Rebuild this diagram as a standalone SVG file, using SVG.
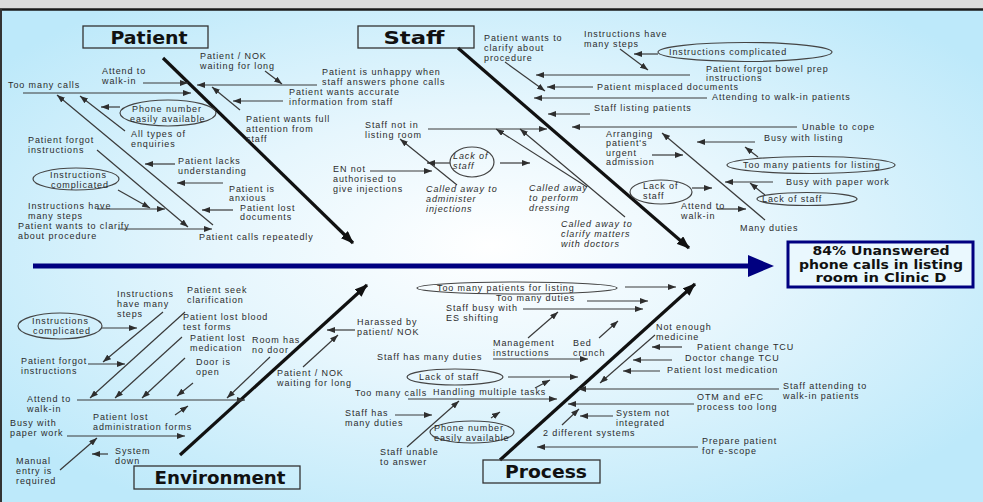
<svg xmlns="http://www.w3.org/2000/svg" width="983" height="502" viewBox="0 0 983 502">
<defs>
<radialGradient id="bg" cx="50%" cy="48%" r="62%">
<stop offset="0" stop-color="#ffffff"/>
<stop offset="0.45" stop-color="#e6f6fd"/>
<stop offset="1" stop-color="#bde9fa"/>
</radialGradient>
<marker id="a" viewBox="0 0 8 6" refX="8" refY="3" markerWidth="8" markerHeight="6" orient="auto" markerUnits="userSpaceOnUse"><path d="M0,0 L8,3 L0,6 z" fill="#2e2e2e"/></marker>
<marker id="b" viewBox="0 0 13 10" refX="12" refY="5" markerWidth="13" markerHeight="10" orient="auto" markerUnits="userSpaceOnUse"><path d="M0,0 L13,5 L0,10 z" fill="#111"/></marker>
<style>
.t{font-family:"Liberation Sans",Arial,sans-serif;font-size:9px;letter-spacing:0.9px;fill:#2c2c2c}
.i{font-style:italic}
.h{font-family:"DejaVu Sans","Liberation Sans",sans-serif;font-weight:bold;font-size:18px;fill:#111;text-anchor:middle}
.e{font-family:"DejaVu Sans","Liberation Sans",sans-serif;font-weight:bold;font-size:12.5px;fill:#111;text-anchor:middle}
.box{fill:none;stroke:#333;stroke-width:1.3}
.el{fill:none;stroke:#444;stroke-width:1.2}
.c{stroke:#3a3a3a;stroke-width:1.2;fill:none;marker-end:url(#a)}
.bone{stroke:#111;stroke-width:3.2;fill:none;marker-end:url(#b)}
</style>
</defs>
<rect x="0" y="0" width="983" height="9" fill="#dcdcdc"/>
<rect x="0" y="9" width="983" height="493" fill="url(#bg)"/>
<line x1="0" y1="9.5" x2="983" y2="9.5" stroke="#1a1a1a" stroke-width="2.5"/>
<line x1="1" y1="9" x2="1" y2="502" stroke="#333" stroke-width="2"/>

<g id="spine">
<line x1="33" y1="266" x2="750" y2="266" stroke="#000080" stroke-width="5"/>
<polygon points="748,255 774,266 748,277" fill="#000080"/>
</g>

<g id="bones">
<line class="bone" x1="163" y1="58" x2="353" y2="243"/>
<line class="bone" x1="458" y1="48" x2="689" y2="248"/>
<line class="bone" x1="180" y1="455" x2="367" y2="285"/>
<line class="bone" x1="500" y1="460" x2="695" y2="284"/>
</g>

<g id="effect">
<rect x="788" y="242" width="185" height="45" fill="#eaf8fe" stroke="#000080" stroke-width="3"/>
<text class="e" x="881" y="255" textLength="137" lengthAdjust="spacingAndGlyphs">84% Unanswered</text>
<text class="e" x="881" y="268.5" textLength="164" lengthAdjust="spacingAndGlyphs">phone calls in listing</text>
<text class="e" x="881" y="282" textLength="131" lengthAdjust="spacingAndGlyphs">room in Clinic D</text>
</g>

<g id="cat-patient"><rect class="box" x="83" y="26" width="125" height="22"/><text class="h" x="149" y="44" textLength="77" lengthAdjust="spacingAndGlyphs">Patient</text></g>
<g id="cat-staff"><rect class="box" x="358" y="26" width="116" height="22"/><text class="h" x="414" y="44" textLength="61" lengthAdjust="spacingAndGlyphs">Staff</text></g>
<g id="cat-environment"><rect class="box" x="134" y="466" width="166" height="23"/><text class="h" x="220" y="484" textLength="131" lengthAdjust="spacingAndGlyphs">Environment</text></g>
<g id="cat-process"><rect class="box" x="483" y="460" width="117" height="23"/><text class="h" x="546" y="478" textLength="82" lengthAdjust="spacingAndGlyphs">Process</text></g>

<g id="connectors">
<line class="c" x1="317" y1="85" x2="197" y2="85"/>
<line class="c" x1="265" y1="71" x2="282" y2="84"/>
<line class="c" x1="143" y1="83" x2="188" y2="83"/>
<line class="c" x1="23" y1="93" x2="191" y2="93"/>
<line class="c" x1="240" y1="110" x2="212" y2="87"/>
<line class="c" x1="283" y1="101" x2="233" y2="101"/>
<line class="c" x1="120" y1="107" x2="101" y2="107"/>
<line class="c" x1="213" y1="225" x2="57" y2="95"/>
<line class="c" x1="125" y1="131" x2="80" y2="96"/>
<line class="c" x1="175" y1="164" x2="145" y2="164"/>
<line class="c" x1="223" y1="183" x2="177" y2="183"/>
<line class="c" x1="233" y1="210" x2="202" y2="210"/>
<line class="c" x1="97" y1="150" x2="188" y2="227"/>
<line class="c" x1="118" y1="190" x2="150" y2="208"/>
<line class="c" x1="97" y1="209" x2="165" y2="209"/>
<line class="c" x1="118" y1="229" x2="212" y2="229"/>

<line class="c" x1="505" y1="62" x2="545" y2="91"/>
<line class="c" x1="690" y1="75" x2="536" y2="75"/>
<line class="c" x1="620" y1="49" x2="648" y2="70"/>
<line class="c" x1="658" y1="54" x2="634" y2="54"/>
<line class="c" x1="593" y1="87" x2="547" y2="87"/>
<line class="c" x1="707" y1="98" x2="534" y2="98"/>
<line class="c" x1="590" y1="114" x2="548" y2="114"/>
<line class="c" x1="797" y1="127" x2="572" y2="127"/>
<line class="c" x1="428" y1="129" x2="547" y2="129"/>
<line class="c" x1="457" y1="185" x2="400" y2="139"/>
<line class="c" x1="450" y1="163" x2="427" y2="163"/>
<line class="c" x1="500" y1="163" x2="530" y2="163"/>
<line class="c" x1="370" y1="171" x2="432" y2="171"/>
<line class="c" x1="587" y1="187" x2="496" y2="129"/>
<line class="c" x1="625" y1="217" x2="520" y2="129"/>
<line class="c" x1="765" y1="220" x2="662" y2="133"/>
<line class="c" x1="755" y1="142" x2="697" y2="142"/>
<line class="c" x1="652" y1="155" x2="683" y2="155"/>
<line class="c" x1="758" y1="157" x2="745" y2="147"/>
<line class="c" x1="773" y1="182" x2="725" y2="182"/>
<line class="c" x1="765" y1="195" x2="750" y2="183"/>
<line class="c" x1="692" y1="188" x2="712" y2="188"/>
<line class="c" x1="717" y1="209" x2="746" y2="209"/>

<line class="c" x1="163" y1="312" x2="103" y2="362"/>
<line class="c" x1="185" y1="312" x2="90" y2="398"/>
<line class="c" x1="182" y1="337" x2="115" y2="398"/>
<line class="c" x1="185" y1="358" x2="142" y2="398"/>
<line class="c" x1="193" y1="383" x2="177" y2="396"/>
<line class="c" x1="270" y1="357" x2="227" y2="398"/>
<line class="c" x1="77" y1="400" x2="245" y2="400"/>
<line class="c" x1="102" y1="328" x2="137" y2="328"/>
<line class="c" x1="88" y1="364" x2="125" y2="364"/>
<line class="c" x1="355" y1="330" x2="327" y2="330"/>
<line class="c" x1="303" y1="367" x2="338" y2="335"/>
<line class="c" x1="175" y1="415" x2="188" y2="406"/>
<line class="c" x1="67" y1="436" x2="185" y2="436"/>
<line class="c" x1="60" y1="470" x2="97" y2="438"/>
<line class="c" x1="108" y1="454" x2="92" y2="454"/>

<line class="c" x1="625" y1="287" x2="676" y2="287"/>
<line class="c" x1="587" y1="301" x2="648" y2="301"/>
<line class="c" x1="523" y1="309" x2="643" y2="309"/>
<line class="c" x1="528" y1="338" x2="558" y2="312"/>
<line class="c" x1="599" y1="338" x2="618" y2="321"/>
<line class="c" x1="493" y1="359" x2="588" y2="359"/>
<line class="c" x1="508" y1="377" x2="578" y2="377"/>
<line class="c" x1="655" y1="335" x2="600" y2="383"/>
<line class="c" x1="682" y1="347" x2="652" y2="347"/>
<line class="c" x1="672" y1="360" x2="633" y2="360"/>
<line class="c" x1="660" y1="371" x2="623" y2="371"/>
<line class="c" x1="779" y1="389" x2="578" y2="389"/>
<line class="c" x1="694" y1="404" x2="568" y2="404"/>
<line class="c" x1="613" y1="416" x2="580" y2="416"/>
<line class="c" x1="562" y1="425" x2="579" y2="409"/>
<line class="c" x1="698" y1="447" x2="537" y2="447"/>
<line class="c" x1="408" y1="399" x2="557" y2="399"/>
<line class="c" x1="395" y1="415" x2="432" y2="415"/>
<line class="c" x1="491" y1="418" x2="500" y2="412"/>
<line class="c" x1="407" y1="447" x2="459" y2="401"/>
<line class="c" x1="535" y1="388" x2="550" y2="380"/>
</g>

<!-- Patient causes -->
<g id="p-nok"><text class="t" x="200" y="58.5">Patient / NOK</text><text class="t" x="200" y="68.5">waiting for long</text></g>
<g id="p-unhappy"><text class="t" x="322" y="74.5">Patient is unhappy when</text><text class="t" x="322" y="84.5">staff answers phone calls</text></g>
<g id="p-attend"><text class="t" x="102" y="73.5">Attend to</text><text class="t" x="102" y="83.5">walk-in</text></g>
<g id="p-toomany"><text class="t" x="8" y="88">Too many calls</text></g>
<g id="p-accurate"><text class="t" x="289" y="94.5">Patient wants accurate</text><text class="t" x="289" y="104.5">information from staff</text></g>
<g id="p-phone"><ellipse class="el" cx="168" cy="113" rx="48" ry="13"/><text class="t" x="132" y="111.5">Phone number</text><text class="t" x="130" y="121.5">easily available</text></g>
<g id="p-full"><text class="t" x="246" y="121.5">Patient wants full</text><text class="t" x="246" y="131.5">attention from</text><text class="t" x="246" y="141.5">staff</text></g>
<g id="p-types"><text class="t" x="131" y="137">All types of</text><text class="t" x="131" y="147">enquiries</text></g>
<g id="p-forgot"><text class="t" x="28" y="143">Patient forgot</text><text class="t" x="28" y="153">instructions</text></g>
<g id="p-lacks"><text class="t" x="178" y="164">Patient lacks</text><text class="t" x="178" y="174">understanding</text></g>
<g id="p-complicated"><ellipse class="el" cx="76" cy="179" rx="43" ry="11"/><text class="t" x="50" y="178">Instructions</text><text class="t" x="51" y="188">complicated</text></g>
<g id="p-anxious"><text class="t" x="229" y="192">Patient is</text><text class="t" x="229" y="201">anxious</text></g>
<g id="p-lostdocs"><text class="t" x="240" y="210.5">Patient lost</text><text class="t" x="240" y="220">documents</text></g>
<g id="p-steps"><text class="t" x="28" y="209">Instructions have</text><text class="t" x="28" y="219">many steps</text></g>
<g id="p-clarify"><text class="t" x="18" y="228.5">Patient wants to clarify</text><text class="t" x="18" y="238.5">about procedure</text></g>
<g id="p-repeat"><text class="t" x="199" y="240">Patient calls repeatedly</text></g>

<!-- Staff causes -->
<g id="s-clarify"><text class="t" x="484" y="41">Patient wants to</text><text class="t" x="484" y="51">clarify about</text><text class="t" x="484" y="61">procedure</text></g>
<g id="s-steps"><text class="t" x="584" y="36.5">Instructions have</text><text class="t" x="584" y="46.5">many steps</text></g>
<g id="s-complicated"><ellipse class="el" cx="745" cy="52" rx="87" ry="9.5"/><text class="t" x="669" y="55">Instructions complicated</text></g>
<g id="s-bowel"><text class="t" x="706" y="72">Patient forgot bowel prep</text><text class="t" x="706" y="80.5">instructions</text></g>
<g id="s-misplaced"><text class="t" x="597" y="89.5">Patient misplaced documents</text></g>
<g id="s-walkin"><text class="t" x="712" y="100">Attending to walk-in patients</text></g>
<g id="s-listing"><text class="t" x="594" y="111">Staff listing patients</text></g>
<g id="s-cope"><text class="t" x="802" y="130">Unable to cope</text></g>
<g id="s-notin"><text class="t" x="365" y="127.5">Staff not in</text><text class="t" x="365" y="137.5">listing room</text></g>
<g id="s-lack1"><ellipse class="el" cx="472" cy="162" rx="22" ry="15"/><text class="t i" x="453" y="158.5">Lack of</text><text class="t i" x="453" y="168.5">staff</text></g>
<g id="s-en"><text class="t" x="333" y="172">EN not</text><text class="t" x="333" y="182">authorised to</text><text class="t" x="333" y="192">give injections</text></g>
<g id="s-inject"><text class="t i" x="426" y="192">Called away to</text><text class="t i" x="426" y="202">administer</text><text class="t i" x="426" y="212">injections</text></g>
<g id="s-dressing"><text class="t i" x="529" y="191">Called away</text><text class="t i" x="529" y="201">to perform</text><text class="t i" x="529" y="211">dressing</text></g>
<g id="s-doctors"><text class="t i" x="561" y="227">Called away to</text><text class="t i" x="561" y="237">clarify matters</text><text class="t i" x="561" y="247">with doctors</text></g>
<g id="s-arranging"><text class="t" x="606" y="136.5">Arranging</text><text class="t" x="606" y="146">patient's</text><text class="t" x="606" y="155.5">urgent</text><text class="t" x="606" y="165">admission</text></g>
<g id="s-busylist"><text class="t" x="764" y="141">Busy with listing</text></g>
<g id="s-toomany"><ellipse class="el" cx="811" cy="165" rx="84" ry="8.5"/><text class="t" x="743" y="168">Too many patients for listing</text></g>
<g id="s-paper"><text class="t" x="786" y="185">Busy with paper work</text></g>
<g id="s-lack3"><ellipse class="el" cx="807" cy="199" rx="50" ry="6.5"/><text class="t" x="762" y="202">Lack of staff</text></g>
<g id="s-lack2"><ellipse class="el" cx="661" cy="192" rx="31" ry="12"/><text class="t" x="643" y="188.5">Lack of</text><text class="t" x="643" y="198.5">staff</text></g>
<g id="s-attend"><text class="t" x="681" y="209">Attend to</text><text class="t" x="681" y="219">walk-in</text></g>
<g id="s-many"><text class="t" x="740" y="231">Many duties</text></g>

<!-- Environment causes -->
<g id="e-steps"><text class="t" x="117" y="297">Instructions</text><text class="t" x="117" y="307">have many</text><text class="t" x="117" y="317">steps</text></g>
<g id="e-seek"><text class="t" x="187" y="292.5">Patient seek</text><text class="t" x="187" y="302.5">clarification</text></g>
<g id="e-blood"><text class="t" x="183" y="320">Patient lost blood</text><text class="t" x="183" y="330">test forms</text></g>
<g id="e-complicated"><ellipse class="el" cx="60" cy="326" rx="42" ry="13"/><text class="t" x="32" y="324">Instructions</text><text class="t" x="33" y="334">complicated</text></g>
<g id="e-medication"><text class="t" x="190" y="340.5">Patient lost</text><text class="t" x="190" y="350.5">medication</text></g>
<g id="e-room"><text class="t" x="252" y="342.5">Room has</text><text class="t" x="252" y="352.5">no door</text></g>
<g id="e-forgot"><text class="t" x="21" y="363.5">Patient forgot</text><text class="t" x="21" y="373.5">instructions</text></g>
<g id="e-door"><text class="t" x="196" y="365">Door is</text><text class="t" x="196" y="375">open</text></g>
<g id="e-nok"><text class="t" x="277" y="376">Patient / NOK</text><text class="t" x="277" y="386">waiting for long</text></g>
<g id="e-harassed"><text class="t" x="357" y="324.5">Harassed by</text><text class="t" x="357" y="334.5">patient/ NOK</text></g>
<g id="e-attend"><text class="t" x="27" y="401.5">Attend to</text><text class="t" x="27" y="411.5">walk-in</text></g>
<g id="e-admin"><text class="t" x="93" y="420">Patient lost</text><text class="t" x="93" y="430">administration forms</text></g>
<g id="e-paper"><text class="t" x="10" y="426">Busy with</text><text class="t" x="10" y="436">paper work</text></g>
<g id="e-manual"><text class="t" x="16" y="464">Manual</text><text class="t" x="16" y="474">entry is</text><text class="t" x="16" y="484">required</text></g>
<g id="e-system"><text class="t" x="115" y="453.5">System</text><text class="t" x="115" y="463.5">down</text></g>

<!-- Process causes -->
<g id="r-toomany"><ellipse class="el" cx="517" cy="288" rx="100" ry="6"/><text class="t" x="437" y="291">Too many patients for listing</text></g>
<g id="r-duties"><text class="t" x="496" y="301">Too many duties</text></g>
<g id="r-es"><text class="t" x="446" y="311">Staff busy with</text><text class="t" x="446" y="321">ES shifting</text></g>
<g id="r-mgmt"><text class="t" x="493" y="346">Management</text><text class="t" x="493" y="356">instructions</text></g>
<g id="r-bed"><text class="t" x="573" y="346">Bed</text><text class="t" x="573" y="356">crunch</text></g>
<g id="r-hasmany"><text class="t" x="377" y="360">Staff has many duties</text></g>
<g id="r-lack"><ellipse class="el" cx="455" cy="377" rx="48" ry="8"/><text class="t" x="419" y="380">Lack of staff</text></g>
<g id="r-medicine"><text class="t" x="656" y="330">Not enough</text><text class="t" x="656" y="340">medicine</text></g>
<g id="r-ptcu"><text class="t" x="697" y="350">Patient change TCU</text></g>
<g id="r-dtcu"><text class="t" x="685" y="361">Doctor change TCU</text></g>
<g id="r-lostmed"><text class="t" x="667" y="373">Patient lost medication</text></g>
<g id="r-walkin"><text class="t" x="783" y="388.5">Staff attending to</text><text class="t" x="783" y="398.5">walk-in patients</text></g>
<g id="r-otm"><text class="t" x="697" y="399.5">OTM and eFC</text><text class="t" x="697" y="409.5">process too long</text></g>
<g id="r-system"><text class="t" x="616" y="415.5">System not</text><text class="t" x="616" y="425.5">integrated</text></g>
<g id="r-two"><text class="t" x="543" y="436">2 different systems</text></g>
<g id="r-prepare"><text class="t" x="702" y="443.5">Prepare patient</text><text class="t" x="702" y="453.5">for e-scope</text></g>
<g id="r-calls"><text class="t" x="355" y="396">Too many calls</text></g>
<g id="r-multi"><text class="t" x="433" y="395">Handling multiple tasks</text></g>
<g id="r-staffhas"><text class="t" x="345" y="415.5">Staff has</text><text class="t" x="345" y="425.5">many duties</text></g>
<g id="r-phone"><ellipse class="el" cx="472" cy="432" rx="42" ry="11"/><text class="t" x="434" y="430.5">Phone number</text><text class="t" x="434" y="440.5">easily available</text></g>
<g id="r-unable"><text class="t" x="380" y="454.5">Staff unable</text><text class="t" x="380" y="464.5">to answer</text></g>
</svg>
